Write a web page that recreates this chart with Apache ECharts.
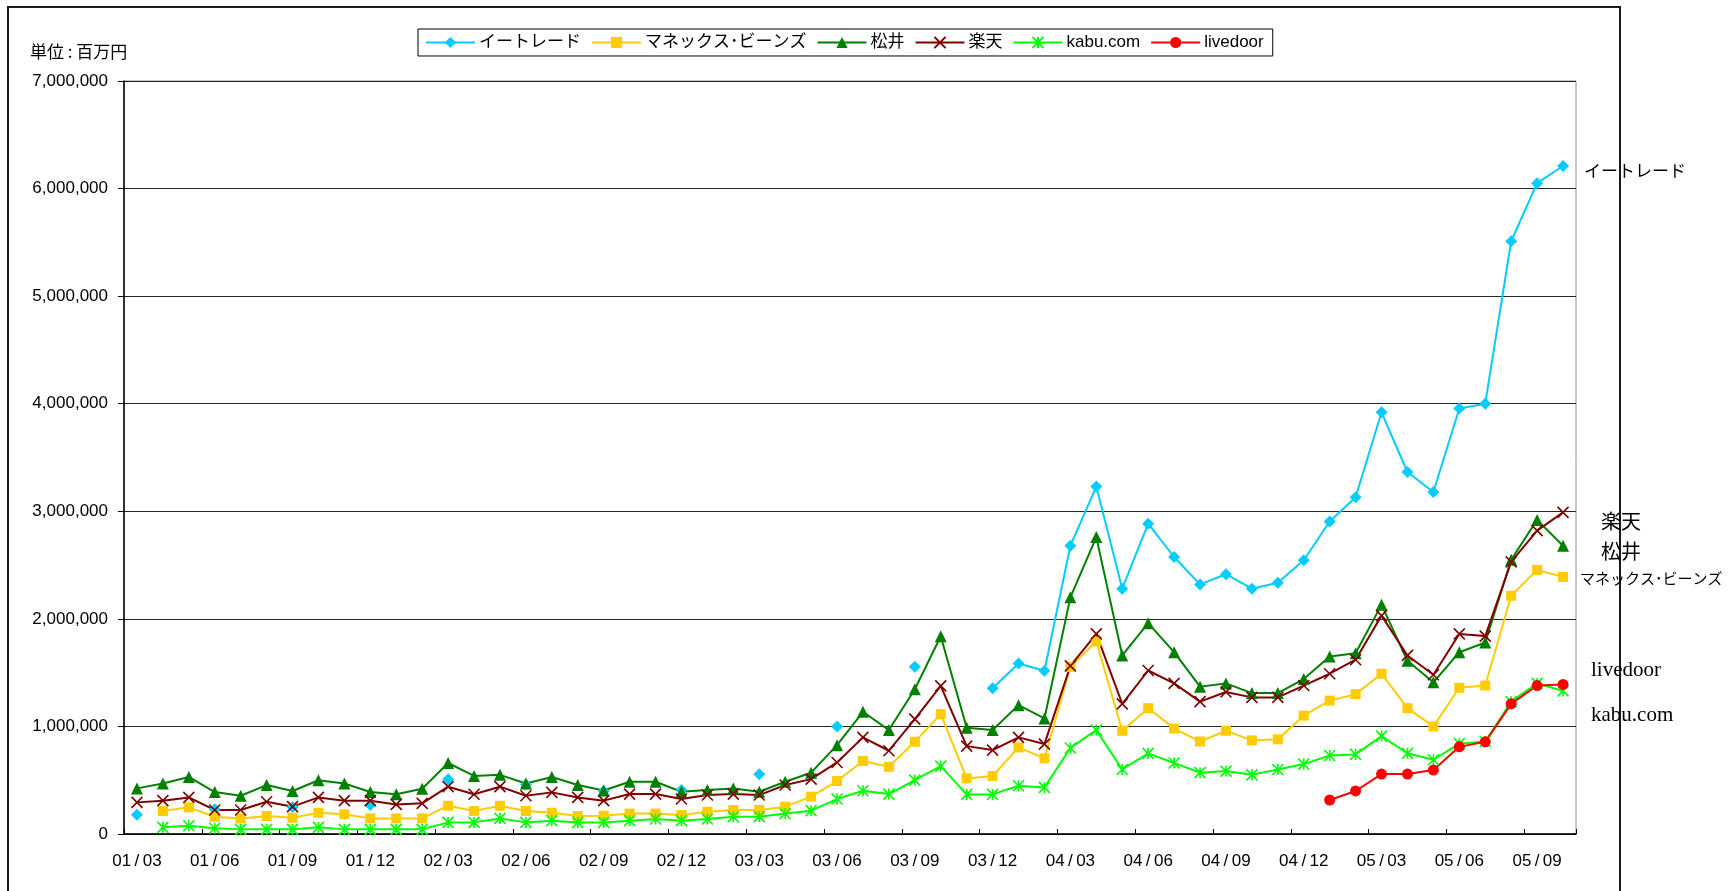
<!DOCTYPE html>
<html>
<head>
<meta charset="utf-8">
<title>ネット証券 預り資産推移</title>
<script src="https://cdn.jsdelivr.net/npm/echarts@6/dist/echarts.min.js"></script>
<style>
  html, body { margin: 0; padding: 0; background: #fff; }
  #chart { width: 1734px; height: 891px; }
</style>
</head>
<body>
<div id="chart"></div>
<script>
// 月 (01/03 〜 05/10)
const months = [
  '01/03', '01/04', '01/05', '01/06', '01/07', '01/08', '01/09', '01/10', '01/11', '01/12',
  '02/01', '02/02', '02/03', '02/04', '02/05', '02/06', '02/07', '02/08', '02/09', '02/10', '02/11', '02/12',
  '03/01', '03/02', '03/03', '03/04', '03/05', '03/06', '03/07', '03/08', '03/09', '03/10', '03/11', '03/12',
  '04/01', '04/02', '04/03', '04/04', '04/05', '04/06', '04/07', '04/08', '04/09', '04/10', '04/11', '04/12',
  '05/01', '05/02', '05/03', '05/04', '05/05', '05/06', '05/07', '05/08', '05/09', '05/10'
];

// 単位：百万円
const etrade = [
  180000, null, null, 230000, null, null, 250000, null, null, 270000,
  null, null, 510000, null, null, 460000, null, null, 400000, null, null, 410000,
  null, null, 555000, null, null, 1000000, null, null, 1555000, null, null, 1355000,
  1585000, 1517000, 2680000, 3230000, 2280000, 2885000, 2575000, 2320000, 2415000, 2280000, 2335000, 2545000,
  2905000, 3130000, 3920000, 3365000, 3180000, 3955000, 4000000, 5510000, 6050000, 6210000
];
const monex = [
  null, 214000, 248000, 160000, 145000, 167000, 152000, 198000, 183000, 145000,
  145000, 145000, 263000, 214000, 263000, 214000, 198000, 167000, 170000, 190000, 190000, 176000,
  207000, 223000, 223000, 254000, 347000, 492000, 678000, 625000, 857000, 1114000, 517000, 539000,
  805000, 703000, 1554000, 1790000, 960000, 1170000, 980000, 860000, 960000, 870000, 880000, 1100000,
  1240000, 1300000, 1490000, 1170000, 1000000, 1360000, 1380000, 2215000, 2455000, 2390000
];
const matsui = [
  424000, 470000, 530000, 390000, 356000, 455000, 400000, 500000, 470000, 390000,
  370000, 420000, 660000, 540000, 550000, 470000, 530000, 455000, 405000, 486000, 486000, 393000,
  410000, 424000, 393000, 486000, 570000, 826000, 1136000, 966000, 1346000, 1838000, 987000, 966000,
  1198000, 1074000, 2200000, 2760000, 1660000, 1960000, 1690000, 1370000, 1400000, 1310000, 1310000, 1440000,
  1650000, 1680000, 2130000, 1610000, 1410000, 1690000, 1780000, 2550000, 2920000, 2680000
];
const rakuten = [
  294000, 310000, 340000, 223000, 223000, 300000, 254000, 340000, 310000, 310000,
  275000, 285000, 440000, 370000, 440000, 356000, 387000, 340000, 310000, 371000, 371000, 325000,
  362000, 371000, 362000, 455000, 510000, 665000, 898000, 774000, 1068000, 1377000, 817000, 780000,
  898000, 836000, 1563000, 1860000, 1210000, 1520000, 1400000, 1230000, 1320000, 1270000, 1270000, 1380000,
  1490000, 1620000, 2030000, 1660000, 1480000, 1860000, 1840000, 2530000, 2820000, 2990000
];
const kabucom = [
  null, 62000, 77000, 53000, 43000, 43000, 43000, 62000, 43000, 43000,
  43000, 43000, 108000, 108000, 145000, 108000, 124000, 108000, 108000, 124000, 139000, 124000,
  139000, 161000, 161000, 190000, 217000, 325000, 402000, 371000, 501000, 631000, 368000, 368000,
  449000, 433000, 800000, 966000, 600000, 750000, 660000, 570000, 585000, 550000, 600000, 650000,
  730000, 740000, 910000, 750000, 690000, 840000, 860000, 1230000, 1400000, 1330000
];
const livedoor = [
  null, null, null, null, null, null, null, null, null, null,
  null, null, null, null, null, null, null, null, null, null, null, null,
  null, null, null, null, null, null, null, null, null, null, null, null,
  null, null, null, null, null, null, null, null, null, null, null, null,
  316000, 400000, 557000, 557000, 594000, 810000, 857000, 1210000, 1380000, 1390000
];

const yTicks = { min: 0, max: 7000000, step: 1000000 };

// 系列名
const names = ['イートレード', 'マネックス･ビーンズ', '松井', '楽天', 'kabu.com', 'livedoor'];

const jpFont = '"Noto Sans CJK JP", "Noto Sans", sans-serif';
const mixFont = '"Liberation Sans", "Noto Sans CJK JP", sans-serif';
const numFont = '"Liberation Sans", Arial, sans-serif';
const serifFont = '"Liberation Serif", "DejaVu Serif", serif';

// マーカー形状
const crossPath = 'path://M0,0L10,10M10,0L0,10';
const starPath = 'path://M5,0L5,10M0,0L10,10M10,0L0,10';

const fmt = (v) => String(v).replace(/\B(?=(\d{3})+(?!\d))/g, ',');

const makeSeries = (name, data, color, symbol, size, stroked) => ({
  name: name,
  type: 'line',
  data: data,
  symbol: symbol,
  symbolSize: size,
  showSymbol: true,
  showAllSymbol: true,
  connectNulls: false,
  animation: false,
  lineStyle: { color: color, width: 2 },
  itemStyle: stroked
    ? { color: color, borderColor: color, borderWidth: 1.6 }
    : { color: color, borderWidth: 0 },
  emphasis: { disabled: true }
});

const chart = echarts.init(document.getElementById('chart'));

const option = {
  animation: false,
  backgroundColor: '#fff',
  legend: {
    data: names,
    left: 418,
    top: 29,
    padding: [5, 9, 5, 7],
    borderColor: '#000',
    borderWidth: 1,
    itemWidth: 49,
    itemHeight: 14,
    itemGap: 10,
    selectedMode: false,
    textStyle: { fontSize: 17, color: '#000', fontFamily: mixFont, padding: [0, 0, 0, -1] }
  },
  grid: {
    left: 124,
    right: 158,
    top: 81,
    bottom: 57,
    show: true,
    borderColor: '#8c8c8c',
    borderWidth: 1
  },
  xAxis: {
    type: 'category',
    data: months,
    boundaryGap: true,
    axisLine: { lineStyle: { color: '#000', width: 1.5 } },
    axisTick: { show: true, inside: true, interval: 2, length: 5, lineStyle: { color: '#000' } },
    axisLabel: {
      interval: 2,
      margin: 19,
      color: '#000',
      fontSize: 17,
      fontFamily: numFont,
      formatter: (v) => v.replace('/', '\u2009/\u2009')
    },
    splitLine: { show: false }
  },
  yAxis: {
    type: 'value',
    min: yTicks.min,
    max: yTicks.max,
    interval: yTicks.step,
    axisLine: { show: true, lineStyle: { color: '#000', width: 1.5 } },
    axisTick: { show: true, length: 6, lineStyle: { color: '#000' } },
    axisLabel: { margin: 16, color: '#000', fontSize: 17, fontFamily: numFont, formatter: fmt },
    splitLine: { lineStyle: { color: '#262626', width: 1 } }
  },
  series: [
    makeSeries(names[0], etrade, '#00ccff', 'diamond', 12, false),
    makeSeries(names[1], monex, '#ffcc00', 'rect', 10, false),
    makeSeries(names[2], matsui, '#008000', 'triangle', 12, false),
    makeSeries(names[3], rakuten, '#800000', crossPath, 11, true),
    makeSeries(names[4], kabucom, '#00ff00', starPath, 11, true),
    makeSeries(names[5], livedoor, '#ff0000', 'circle', 11, false)
  ],
  graphic: [
    // 外枠
    {
      type: 'rect',
      silent: true,
      shape: { x: 8, y: 7, width: 1612, height: 1000 },
      style: { fill: 'none', stroke: '#1a1a1a', lineWidth: 2 }
    },
    {
      type: 'text', silent: true, x: 30, y: 52,
      style: { text: '単位 : 百万円', font: '17px ' + jpFont, fill: '#000', verticalAlign: 'middle', textVerticalAlign: 'middle' }
    },
    // 右側の系列名
    {
      type: 'text', silent: true, x: 1584, y: 171,
      style: { text: 'イートレード', font: '17px ' + jpFont, fill: '#000', verticalAlign: 'middle', textVerticalAlign: 'middle' }
    },
    {
      type: 'text', silent: true, x: 1601, y: 521,
      style: { text: '楽天', font: '20px ' + jpFont, fill: '#000', verticalAlign: 'middle', textVerticalAlign: 'middle' }
    },
    {
      type: 'text', silent: true, x: 1601, y: 551,
      style: { text: '松井', font: '20px ' + jpFont, fill: '#000', verticalAlign: 'middle', textVerticalAlign: 'middle' }
    },
    {
      type: 'text', silent: true, x: 1580, y: 578,
      style: { text: 'マネックス･ビーンズ', font: '15px ' + jpFont, fill: '#000', verticalAlign: 'middle', textVerticalAlign: 'middle' }
    },
    {
      type: 'text', silent: true, x: 1591, y: 670,
      style: { text: 'livedoor', font: '21px ' + serifFont, fill: '#000', verticalAlign: 'middle', textVerticalAlign: 'middle' }
    },
    {
      type: 'text', silent: true, x: 1591, y: 715,
      style: { text: 'kabu.com', font: '21px ' + serifFont, fill: '#000', verticalAlign: 'middle', textVerticalAlign: 'middle' }
    }
  ]
};

chart.setOption(option);
</script>
</body>
</html>
